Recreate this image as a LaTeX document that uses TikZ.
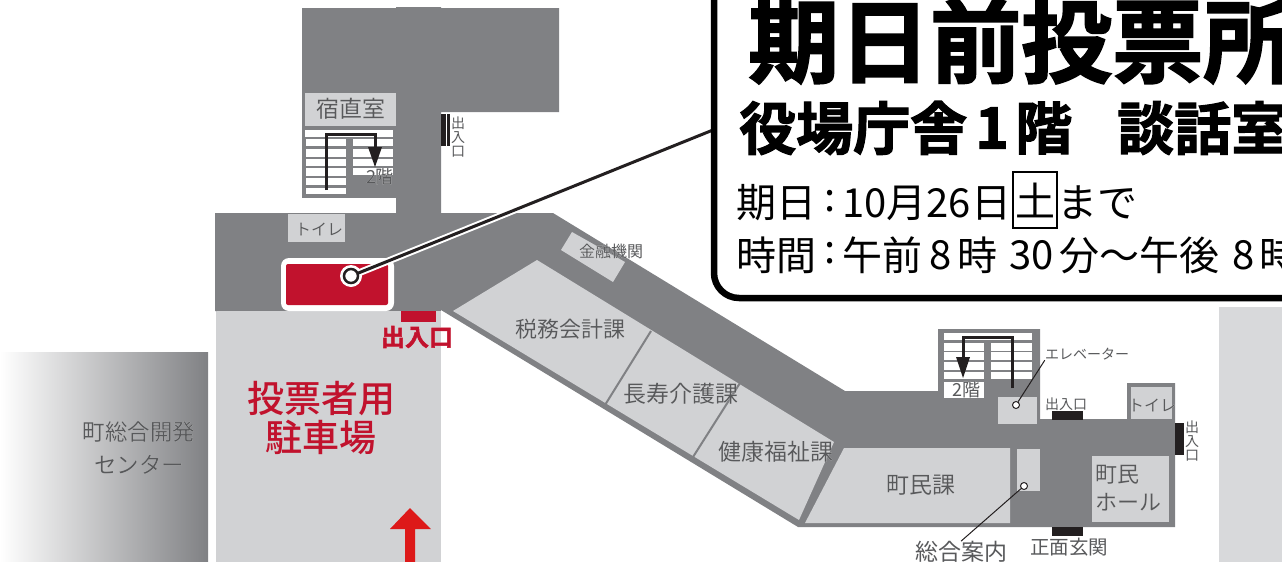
\documentclass[tikz,border=0pt]{standalone}
\usepackage{fontspec}
\usepackage[outline]{contour}
\setmainfont{Noto Sans CJK JP}
\newfontfamily\cjkbold[FakeBold=2]{Noto Sans CJK JP Bold}
\newfontfamily\cjkred{Noto Sans CJK JP Medium}
\contourlength{1pt}
\definecolor{wall}{HTML}{808184}
\definecolor{room}{HTML}{D1D2D4}
\definecolor{ink}{HTML}{231F20}
\definecolor{lab}{HTML}{58595B}
\definecolor{crim}{HTML}{C1122D}
\newcommand{\fsz}[1]{\fontsize{#1}{#1}\selectfont}
\newcommand{\lb}[1]{\contour{white}{\textcolor{lab}{#1}}}
\tikzset{
  wallfill/.style={fill=wall,draw=none},
  roomfill/.style={fill=room,draw=none},
  stepfill/.style={fill=white,draw=none},
  barfill/.style={fill=ink,draw=none},
  label/.style={inner sep=0pt,font=\fsz{#1},text=lab},
  label/.default=23,
  vlabel/.style={inner sep=0pt,align=center,font=\fsz{14},text=lab},
  stairline/.style={draw=ink,line width=3pt,line join=miter},
  leader/.style={draw=ink,line width=1pt},
  pin/.style={circle,draw=ink,fill=white,line width=1pt,minimum size=7pt,inner sep=0pt},
  bk/.style={inner sep=0pt,anchor=west,text=black}
}
\begin{document}
\begin{tikzpicture}[x=1pt,y=-1pt]
\useasboundingbox (0,0) rectangle (1282,562);
\clip (0,0) rectangle (1282,562);
% neighbouring buildings
\shade[left color=white,right color=wall,draw=none] (0,352) rectangle (208,562);
\fill[room!85!white] (1219,307) rectangle (1282,562);
\fill[room] (216,311) rectangle (441,562);
% building outline
\path[wallfill] (302,8) -- (396,8) -- (396,7) -- (441,7) -- (441,8) -- (559,8) -- (559,112) -- (441,112)
  -- (441,213) -- (553,213) -- (845,391) -- (938,391) -- (938,329) -- (1040,329) -- (1040,419)
  -- (1127,419) -- (1127,383) -- (1175,383) -- (1175,527) -- (798,527) -- (441,310) -- (216,311) -- (215,311)
  -- (215,213) -- (396,213) -- (396,198) -- (302,198) -- cycle;
\fill[white] (302,198) rectangle (396,213);
\fill[wall] (215,213) rectangle (441,311);
% rooms
\path[roomfill] (453,311) -- (537,260) -- (834,442) -- (799,520) -- cycle;
\path[roomfill] (561,250) -- (572,232) -- (625,262) -- (613,282) -- cycle;
\path[roomfill] (805,523) -- (844,448) -- (1010,448) -- (1010,523) -- cycle;
\path[roomfill] (1017,449) rectangle (1040,491);
\path[roomfill] (1092,456) rectangle (1169,522);
\path[roomfill] (998,397) rectangle (1037,424);
\path[roomfill] (1131,387) rectangle (1172,419);
\path[roomfill] (305,93) rectangle (396,126);
\path[roomfill] (288,214) rectangle (345,242);
\draw[wall,line width=2pt] (651,331) -- (605,405);
\draw[wall,line width=2pt] (740,383) -- (693,457);
% stairs 1
\fill[wall] (302,126) rectangle (396,198);
\foreach \a/\b in {139/146,149/157,159/166,168/176,178/185,188/194}{\path[stepfill] (306,\a) rectangle (346,\b);}
\foreach \a/\b in {139/146,149/157,159/166,168/175}{\path[stepfill] (353,\a) rectangle (393,\b);}
\path[stepfill] (305,130) rectangle (393,137);
% stairs 2
\foreach \a/\b in {343/351,352/360,362/370,372/379}{\path[stepfill] (944,\a) rectangle (984,\b);\path[stepfill] (991,\a) rectangle (1032,\b);}
\path[stepfill] (944,333) rectangle (1032,340);
\path[stepfill] (944,382) rectangle (984,398);
% stair routes
\coordinate (s1a) at (326,190); \coordinate (s1b) at (326,134); \coordinate (s1c) at (375,134); \coordinate (s1d) at (375,147); \coordinate (s1e) at (375,167);
\draw[stairline] (s1a) -- (s1b) -- (s1c) -- (s1d);
\fill[ink] (s1e) -- (368,147) -- (382,147) -- cycle;
\coordinate (s2a) at (1012,388); \coordinate (s2b) at (1012,337); \coordinate (s2c) at (963,337); \coordinate (s2d) at (963,357); \coordinate (s2e) at (963,378);
\draw[stairline] (s2a) -- (s2b) -- (s2c) -- (s2d);
\fill[ink] (s2e) -- (956,357) -- (970,357) -- cycle;
% door bars
\path[barfill] (441,114) rectangle (446,146);
\path[barfill] (447,114) rectangle (450,146);
\path[barfill] (1052,411) rectangle (1083,420);
\path[barfill] (1175,423) rectangle (1184,455);
\path[barfill] (1052,527) rectangle (1083,536);
% red polling place
\fill[white,rounded corners=8pt] (281,258) rectangle (394,311);
\fill[crim,rounded corners=2pt] (286,264) rectangle (388,305);
\fill[crim] (401,311) rectangle (436,322);
% red arrow
\fill[red!85!black!90!white] (410,508) -- (431,529) -- (415,529) -- (415,562) -- (405,562) -- (405,529) -- (390,529) -- cycle;
% callout
\node[circle,fill=white,minimum size=22pt,inner sep=0pt] (spotbg) at (351,276) {};
\coordinate (calloutedge) at (713,130);
\draw[white,line width=7pt] (spotbg.center) -- (calloutedge);
\draw[ink,line width=3pt] (spotbg.center) -- (calloutedge);
\node[pin,line width=2.5pt,minimum size=14pt] (spot) at (351,276) {};
\draw[fill=white,draw=black,line width=6.5pt,rounded corners=25pt] (714,-40) -- (714,298) -- (1340,298) -- (1340,-40) -- cycle;
\node[bk,font=\cjkbold\fsz{91}] (title) at (748,41) {期日前投票所};
\node[bk,font=\cjkbold\fsz{57}] (sub1) at (739,128) {役場庁舎};
\node[bk,font=\cjkbold\fsz{57}] (sub2) at (975,128) {1};
\node[bk,font=\cjkbold\fsz{57}] (sub3) at (1015,128) {階};
\node[bk,font=\cjkbold\fsz{57}] (sub4) at (1117,128) {談話室};
\node[bk,font=\fsz{40}] (d1) at (736,203) {期日};
\node[bk,font=\fsz{40}] (d2) at (824,201) {:};
\node[bk,font=\fsz{40}] (d3) at (842,203) {10月26日};
\node[draw=black,line width=1.5pt,minimum width=44pt,minimum height=56pt,inner sep=0pt,font=\fsz{40}] (d4) at (1035,200) {土};
\node[bk,font=\fsz{40}] (d5) at (1057,203) {まで};
\node[bk,font=\fsz{40}] (t1) at (736,255) {時間};
\node[bk,font=\fsz{40}] (t2) at (824,253) {:};
\node[bk,font=\fsz{40}] (t3) at (842,255) {午前};
\node[bk,font=\fsz{40}] (t3b) at (929,255) {8};
\node[bk,font=\fsz{40}] (t3c) at (957,255) {時};
\node[bk,font=\fsz{40}] (t4) at (1009,255) {30};
\node[bk,font=\fsz{40}] (t5) at (1059,255) {分～午後};
\node[bk,font=\fsz{40}] (t5b) at (1232,255) {8};
\node[bk,font=\fsz{40}] (t5c) at (1259,255) {時};
% labels
\node[label=23] (n1) at (351,109) {\lb{宿直室}};
\node[label=16] (n2) at (319,229) {\lb{トイレ}};
\node[label=18] (n3) at (380,177) {\lb{2階}};
\node[vlabel] (n4) at (458,137) {出\\入\\口};
\node[label=16] (n5) at (611,251) {\lb{金融機関}};
\node[label=22] (n6) at (570,329) {\lb{税務会計課}};
\node[label=23] (n7) at (681,394) {\lb{長寿介護課}};
\node[label=23] (n8) at (776,452) {\lb{健康福祉課}};
\node[label=23] (n9) at (921,485) {\lb{町民課}};
\node[label=18] (n10) at (966,390) {\lb{2階}};
\node[label=14] (n11) at (1087,354) {エレベーター};
\node[label=14] (n12) at (1066,404) {出入口};
\node[label=16] (n13) at (1152,405) {\lb{トイレ}};
\node[vlabel] (n14) at (1192,441) {出\\入\\口};
\node[label=22] (n15) at (1117,475) {\lb{町民}};
\node[label=22] (n16) at (1128,502) {\lb{ホール}};
\node[label=23] (n17) at (961,552) {総合案内};
\node[label=19.5] (n18) at (1069,547) {正面玄関};
\node[label=22.5] (n19) at (139,432) {\lb{町総合開発}};
\node[label=22.5] (n20) at (139,465) {\lb{センター}};
\node[inner sep=0pt,font=\cjkred\fsz{37},text=crim] (n21) at (321,399) {投票者用};
\node[inner sep=0pt,font=\cjkred\fsz{37},text=crim] (n22) at (321,437) {駐車場};
\node[inner sep=0pt,font=\cjkbold\fsz{24}] (n23) at (417,337) {\contourlength{1.5pt}\contour{white}{\textcolor{crim}{出入口}}};
% pins
\node[pin] (elev) at (1016,405) {};
\node[pin] (info) at (1024,486) {};
\draw[leader] (elev) -- (n11.south west);
\draw[leader] (info) -- (n17.north);
\end{tikzpicture}
\end{document}
